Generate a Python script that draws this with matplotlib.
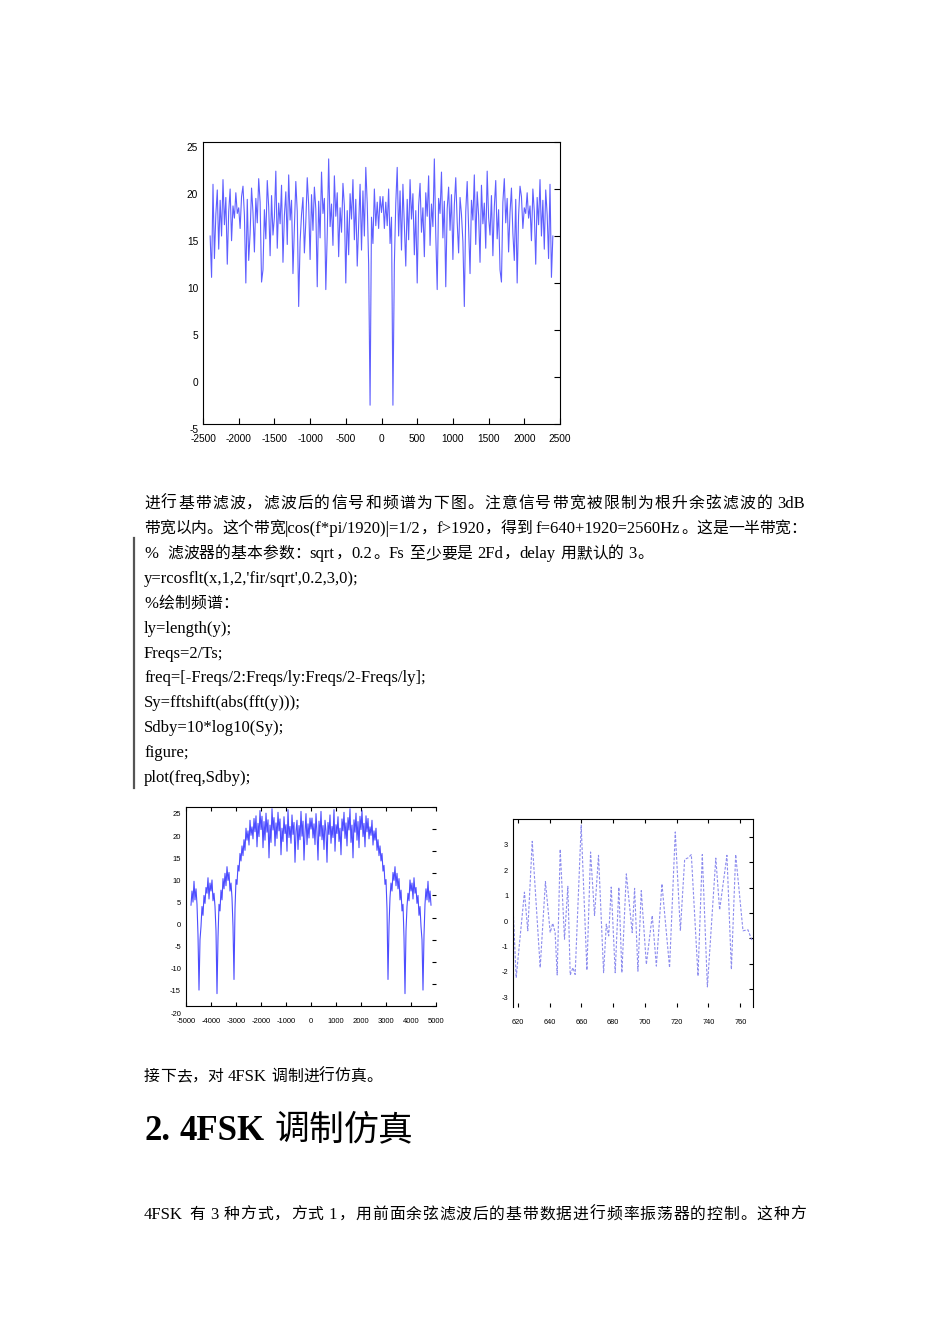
#!/usr/bin/env python3
# page with two spectra plots, one waveform, and chinese text around them
import numpy as np
import matplotlib
matplotlib.use('Agg')
import matplotlib.pyplot as plt
import matplotlib.transforms as mtransforms

plt.rcParams['axes.unicode_minus'] = False

# ** spectrum before filtering (positive half, step 20 Hz, mirrored for negative side) **
freq_top_step = 20
sdb_top_half = [17.5, 19.2, 15.8, 18.6, 16.1, 20.0, 14.2, 17.0, -3.0, 12.0,
                18.5, 22.3, 15.0, 19.8, 13.5, 20.5, 16.2, 11.8, 18.9, 14.6,
                21.0, 16.8, 19.5, 13.0, 17.7, 10.0, 18.2, 20.6, 15.4, 18.0,
                12.8, 19.6, 17.1, 21.4, 14.0, 18.4, 16.0, 23.2, 15.2, 9.3,
                19.0, 17.4, 21.8, 14.8, 18.7, 9.6, 17.9, 20.2, 15.6, 19.4,
                12.5, 18.3, 21.2, 16.5, 13.2, 19.1, 17.3, 14.4, 7.5, 17.6,
                20.8, 15.9, 11.0, 18.8, 16.7, 21.5, 14.1, 19.7, 17.2, 12.2,
                20.4, 16.3, 18.5, 13.7, 21.9, 17.0, 15.1, 19.3, 12.9, 18.1,
                20.9, 14.7, 17.8, 11.4, 10.1, 18.6, 21.1, 16.4, 19.0, 13.3,
                17.5, 20.1, 15.3, 12.4, 18.9, 10.0, 17.2, 20.3, 19.2, 15.8,
                18.0, 17.4, 19.6, 16.9, 18.2, 14.5, 20.0, 17.6, 12.0, 19.1,
                16.2, 21.0, 15.0, 18.8, 13.6, 19.9, 17.3, 12.6, 20.5, 10.6,
                15.0]

# ** spectrum after root raised cosine filter (positive half, step 40 Hz) **
freq_bot_step = 40
sdb_bot_half = [20.0, 22.5, 18.0, 21.2, 16.5, 23.5, 19.2, 13.0, 21.8, 18.4,
                24.0, 17.6, 20.8, 15.4, 22.0, 19.5, 12.5, 21.5, 18.8, 23.2,
                16.8, 20.6, 18.1, 24.4, 15.0, 21.0, 19.0, 22.8, 17.2, 20.2,
                14.2, 22.3, 19.6, 23.8, 17.9, 21.4, 16.2, 22.6, 19.8, 24.6,
                17.0, 20.9, 13.5, 22.1, 19.3, 23.6, 17.5, 21.7, 15.8, 22.9,
                19.9, 24.2, 18.3, 21.3, 16.0, 23.0, 19.4, 22.4, 17.8, 20.5,
                18.6, 22.0, 16.4, 19.6, 17.5, 20.2, 15.2, 17.6, 14.0, 16.2,
                12.8, 14.5, 10.5, 11.8, 7.5, 8.6, 2.0, -14.0, -2.0, 4.5,
                7.8, 6.0, 10.2, 8.4, 11.5, 7.2, 10.0, 6.5, 8.8, 4.0,
                6.2, 1.5, 3.0, -4.5, -17.2, -3.0, 2.5, 5.5, 3.8, 8.5,
                6.0, 7.8, 4.2, 9.0, 5.5, 6.8, 3.2, 5.0, 0.5, 2.5,
                -2.0, -5.0, -16.4, -4.0, 3.0, 6.5, 4.0, 8.2, 3.5, 6.0,
                2.8]

# ** filtered baseband waveform, turning points **
wave_t = [616.9, 619.0, 624.2, 626.3, 629.1, 634.1, 637.4, 640.4, 642.0, 643.5,
          644.8, 646.7, 649.4, 651.5, 653.0, 654.7, 656.1, 659.9, 663.5, 665.8,
          668.3, 670.8, 674.0, 675.7, 677.2, 678.8, 681.3, 683.6, 685.5, 688.3,
          692.0, 693.5, 695.6, 697.7, 700.9, 704.6, 707.2, 710.7, 715.5, 719.1,
          722.3, 725.0, 727.1, 729.2, 733.4, 736.1, 739.3, 744.6, 747.0, 751.6,
          754.4, 757.1, 761.7, 764.8, 767.5]
wave_y = [0.42, -2.55, 0.82, -0.70, 2.82, -2.15, 1.24, -0.77, -0.40, -0.77,
          -2.44, 2.51, -1.03, 1.05, -2.44, -2.15, -2.42, 3.46, -2.25, 2.40,
          -0.10, 2.27, -2.35, -0.44, -0.90, 1.02, -2.35, 1.01, -2.35, 1.54,
          -0.77, 0.97, -2.29, 0.88, -2.02, -0.10, -2.09, 1.15, -2.15, 3.19,
          -0.70, 2.11, 2.17, 2.30, -2.48, 2.30, -2.91, 2.16, 0.12, 2.27,
          -2.22, 2.30, -0.70, -0.66, -1.10]

code_lines = ['%  滤波器的基本参数：sqrt，0.2。Fs 至少要是 2Fd，delay 用默认的 3。',
              "y=rcosflt(x,1,2,'fir/sqrt',0.2,3,0);",
              '%绘制频谱：',
              'ly=length(y);',
              'Freqs=2/Ts;',
              'freq=[-Freqs/2:Freqs/ly:Freqs/2-Freqs/ly];',
              'Sy=fftshift(abs(fft(y)));',
              'Sdby=10*log10(Sy);',
              'figure;',
              'plot(freq,Sdby);']

tick_font = ['Liberation Sans', 'DejaVu Sans']
latin_font = ['Liberation Serif', 'DejaVu Serif']
cjk_font = ['Noto Sans CJK SC']

W, H = 950, 1344
fig = plt.figure(figsize=(W / 100, H / 100), dpi=100)
renderer = fig.canvas.get_renderer()


def box(l, t, r, b):
    return [l / W, 1 - b / H, (r - l) / W, (b - t) / H]


def full_spectrum(half, step):
    half = np.array(half)
    f_pos = np.arange(len(half)) * step
    f = np.concatenate([-f_pos[:0:-1], f_pos])
    s = np.concatenate([half[:0:-1], half])
    return f, s


def style_axis(ax, size, pad, ydrop):
    for lab in ax.get_xticklabels() + ax.get_yticklabels():
        lab.set_family(tick_font)
        lab.set_fontsize(size)
    ax.tick_params(axis='x', pad=pad)
    # y labels sit a bit lower than their ticks in the scan
    off = mtransforms.ScaledTranslation(0, -ydrop / 100, fig.dpi_scale_trans)
    for lab in ax.yaxis.get_majorticklabels():
        lab.set_transform(lab.get_transform() + off)


# top plot
ax1 = fig.add_axes(box(203, 142, 560, 424))
f1, s1 = full_spectrum(sdb_top_half, freq_top_step)
ax1.plot(f1, s1, color='#2a2aff', lw=0.8, alpha=0.75)
ax1.set_xlim(-2500, 2500)
ax1.set_ylim(-5, 25)
ax1.set_xticks(np.arange(-2500, 2501, 500))
ax1.set_yticks(np.arange(-5, 26, 5))
ax1.tick_params(direction='in', length=4, width=0.8,
                left=False, right=True, top=False, bottom=True)
style_axis(ax1, 7.3, 7.5, 5)

# bottom left plot
ax2 = fig.add_axes(box(186, 807, 436, 1006))
f2, s2 = full_spectrum(sdb_bot_half, freq_bot_step)
ax2.plot(f2, s2, color='#2020ff', lw=0.8, alpha=0.8)
ax2.set_xlim(-5000, 5000)
ax2.set_ylim(-20, 25)
ax2.set_xticks(np.arange(-5000, 5001, 1000))
ax2.set_yticks(np.arange(-20, 26, 5))
ax2.spines['right'].set_visible(False)
ax2.tick_params(direction='in', length=3, width=0.8,
                left=False, right=True, top=True, bottom=True)
style_axis(ax2, 5.5, 8.5, 7)

# bottom right plot
ax3 = fig.add_axes(box(513, 819, 753, 1007))
ax3.plot(wave_t, wave_y, color='#8c8cee', lw=0.8, linestyle=(0, (2.5, 1.5)))
ax3.set_xlim(617, 768)
ax3.set_ylim(-3.7, 3.7)
ax3.set_xticks(np.arange(620, 761, 20))
ax3.set_yticks(np.arange(-3, 4, 1))
ax3.spines['bottom'].set_visible(False)
ax3.tick_params(direction='in', length=3, width=0.8,
                left=False, right=True, top=True, bottom=True)
style_axis(ax3, 5.3, 9, 8)


def put_line(x0, yc, s, x1=None, lat_size=12.0, cjk_size=11.4,
             weight='normal', drop=6):
    # lay out a mixed line run by run; if x1 is given spread it to full width
    toks = []
    word = ''
    for ch in s:
        if ch == ' ' or ord(ch) >= 0x2E80:
            if word:
                toks.append((word, 'lat'))
                word = ''
            toks.append((ch, 'sp' if ch == ' ' else 'cjk'))
        else:
            word += ch
    if word:
        toks.append((word, 'lat'))
    em = cjk_size * 100 / 72
    space = lat_size * 100 / 72 * 0.25
    arts, widths = [], []
    for t, kind in toks:
        if kind == 'sp':
            # a space just widens the previous piece
            widths[-1] += space
            continue
        if kind == 'cjk':
            arts.append(fig.text(0, 0, t, fontsize=cjk_size, family=cjk_font,
                                 va='baseline'))
            widths.append(em)
        else:
            a = fig.text(0, 0, t, fontsize=lat_size, family=latin_font,
                         weight=weight, va='baseline')
            arts.append(a)
            widths.append(a.get_window_extent(renderer).width + 0.8)
    extra = 0
    if x1 is not None and len(arts) > 1:
        extra = (x1 - x0 - sum(widths)) / (len(arts) - 1)
    x = x0
    for a, w in zip(arts, widths):
        a.set_position((x / W, 1 - (yc + drop) / H))
        x += w + extra


# paragraph and code
put_line(144, 502, '进行基带滤波，滤波后的信号和频谱为下图。注意信号带宽被限制为根升余弦滤波的 3dB', x1=806)
put_line(144, 527, '带宽以内。这个带宽|cos(f*pi/1920)|=1/2，f>1920，得到 f=640+1920=2560Hz。这是一半带宽：', x1=806)
for i, line in enumerate(code_lines):
    put_line(144, 552 + i * 24.9, line)
fig.add_artist(plt.Line2D([134 / W, 134 / W], [1 - 538 / H, 1 - 788 / H],
                          color='#555555', lw=1.6))

put_line(144, 1075, '接下去，对 4FSK 调制进行仿真。')
put_line(144, 1128, '2. 4FSK 调制仿真', lat_size=25, cjk_size=25, weight='bold', drop=12)
put_line(144, 1213, '4FSK 有 3 种方式，方式 1，用前面余弦滤波后的基带数据进行频率振荡器的控制。这种方', x1=806)

fig.savefig('out.png', dpi=100)
